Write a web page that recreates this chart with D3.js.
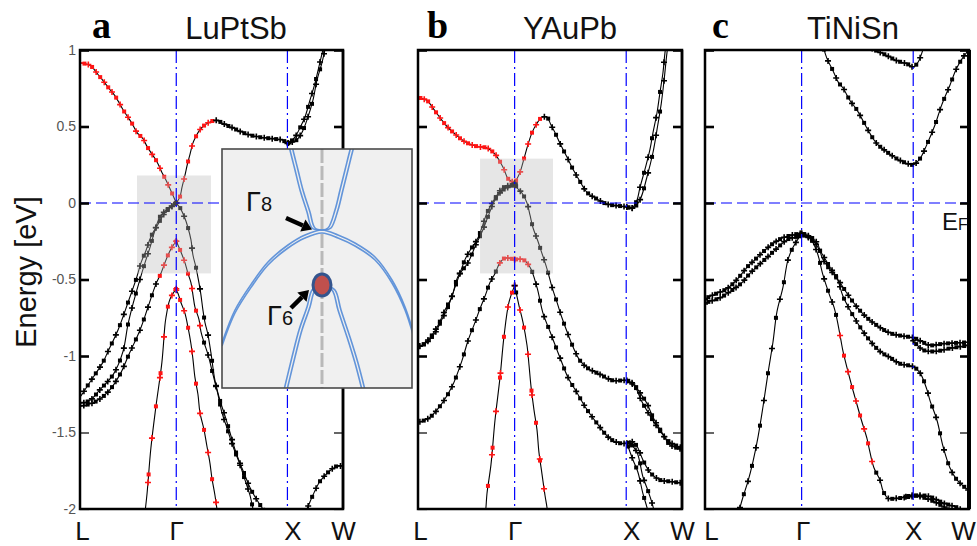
<!DOCTYPE html>
<html><head><meta charset="utf-8">
<script src="https://cdn.jsdelivr.net/npm/d3@7"></script>
<style>body{margin:0;background:#fff}svg{display:block}</style>
</head><body>
<svg id="chart" width="977" height="546"></svg>
<script>
// ---------------- data ----------------
const kPoints = [0, 0.866, 1.866, 2.366];
const kLabels = ["L", "Γ", "X", "W"];
const eTicks = [1, 0.5, 0, -0.5, -1, -1.5, -2];
const eTickLabels = ["1", "0.5", "0", "-0.5", "-1", "-1.5", "-2"];
const compounds = ["LuPtSb", "YAuPb", "TiNiSn"];
const panelLetters = ["a", "b", "c"];

// LuPtSb bands [k, E(eV)]
const a_c1 = [[0,0.915],[0.09,0.90],[0.162,0.84],[0.207,0.80],[0.26,0.75],[0.315,0.70],[0.387,0.61],[0.432,0.56],[0.468,0.52],[0.513,0.46],[0.567,0.42],[0.603,0.37],[0.647,0.32],[0.692,0.27],[0.737,0.20],[0.773,0.15],[0.827,0.065],[0.866,0]];
const a_c2 = [[0.866,0],[0.899,0.04],[0.917,0.10],[0.944,0.18],[0.965,0.25],[0.99,0.32],[1.015,0.39],[1.04,0.43],[1.07,0.47],[1.106,0.50],[1.169,0.53],[1.232,0.54],[1.286,0.52],[1.376,0.49],[1.502,0.45],[1.619,0.43],[1.736,0.42],[1.826,0.41],[1.866,0.39],[1.933,0.43],[1.978,0.49],[2.023,0.56],[2.068,0.67],[2.113,0.78],[2.149,0.89],[2.185,1.00],[2.22,1.1]];
const a_c3 = [[1.866,0.39],[1.945,0.41],[1.996,0.46],[2.05,0.56],[2.095,0.67],[2.131,0.80],[2.176,0.915],[2.203,1.0],[2.23,1.08]];
const a_v1 = [[0.866,0],[0.764,-0.065],[0.701,-0.14],[0.638,-0.22],[0.594,-0.31],[0.549,-0.39],[0.513,-0.48],[0.432,-0.65],[0.342,-0.83],[0.252,-0.97],[0.207,-1.04],[0.099,-1.16],[0.027,-1.24],[0,-1.27]];
const a_v2 = [[0.866,0],[0.728,-0.08],[0.674,-0.18],[0.63,-0.29],[0.585,-0.39],[0.531,-0.52],[0.477,-0.66],[0.43,-0.80],[0.387,-0.97],[0.30,-1.12],[0.18,-1.22],[0.09,-1.29],[0,-1.31]];
const a_v3 = [[0.866,-0.25],[0.818,-0.30],[0.764,-0.39],[0.728,-0.46],[0.683,-0.53],[0.612,-0.68],[0.54,-0.83],[0.44,-0.99],[0.36,-1.12],[0.252,-1.235],[0.135,-1.30],[0,-1.33]];
const a_v4 = [[0.866,-0.56],[0.809,-0.63],[0.773,-0.75],[0.764,-0.80],[0.737,-1.04],[0.683,-1.33],[0.638,-1.60],[0.603,-1.90],[0.585,-2.02]];
const a_v5 = [[0.866,-0.57],[0.881,-0.59],[0.908,-0.65],[0.944,-0.72],[0.971,-0.81],[0.998,-0.92],[1.016,-1.02],[1.034,-1.14],[1.061,-1.25],[1.079,-1.37],[1.115,-1.48],[1.142,-1.59],[1.169,-1.70],[1.187,-1.80],[1.214,-1.91],[1.232,-2.0],[1.24,-2.05]];
const a_v6 = [[0.866,-0.25],[0.908,-0.32],[0.944,-0.39],[0.971,-0.46],[0.998,-0.52],[1.016,-0.60],[1.034,-0.68],[1.07,-0.76],[1.088,-0.84],[1.115,-0.91],[1.151,-0.99],[1.196,-1.12],[1.241,-1.25],[1.277,-1.37],[1.322,-1.47],[1.376,-1.59],[1.439,-1.71],[1.484,-1.81],[1.529,-1.91],[1.556,-2.0],[1.57,-2.05]];
const a_v7 = [[0.866,0],[0.899,-0.03],[0.944,-0.10],[0.971,-0.16],[0.998,-0.24],[1.016,-0.34],[1.043,-0.42],[1.07,-0.52],[1.088,-0.60],[1.106,-0.70],[1.124,-0.78],[1.151,-0.86],[1.178,-0.98],[1.214,-1.16],[1.259,-1.29],[1.304,-1.39],[1.349,-1.50],[1.394,-1.61],[1.439,-1.70],[1.484,-1.78],[1.529,-1.86],[1.574,-1.92],[1.646,-2.0],[1.68,-2.03]];
const a_v8 = [[2.0,-2.06],[2.041,-2.0],[2.095,-1.91],[2.158,-1.82],[2.248,-1.75],[2.311,-1.72],[2.366,-1.72]];
const aBands = [a_c1, a_c2, a_c3, a_v1, a_v2, a_v3, a_v4, a_v5, a_v6, a_v7, a_v8];
const aRed = [[0,0.87],[0.86,1.2],null,null,null,[0.7,0.87],[0.58,0.87],[0.86,1.25],[0.86,1.1],null,null];
const aShade = [0.513, 1.178, 0.18, -0.46];

// YAuPb bands
const b_c1 = [[0,0.69],[0.081,0.67],[0.134,0.62],[0.215,0.54],[0.26,0.50],[0.349,0.44],[0.421,0.40],[0.529,0.37],[0.618,0.36],[0.69,0.32],[0.735,0.27],[0.771,0.22],[0.806,0.16],[0.866,0.13]];
const b_c2 = [[0.866,0.13],[0.914,0.20],[0.95,0.29],[0.989,0.39],[1.022,0.46],[1.057,0.51],[1.111,0.56],[1.156,0.56],[1.192,0.51],[1.228,0.46],[1.272,0.39],[1.335,0.30],[1.389,0.22],[1.452,0.14],[1.514,0.07],[1.604,0.026],[1.694,-0.007],[1.81,-0.02],[1.872,-0.026],[1.918,-0.033],[1.963,0.02],[1.989,0.10],[2.034,0.22],[2.079,0.35],[2.106,0.46],[2.142,0.59],[2.168,0.72],[2.195,0.85],[2.213,0.98],[2.231,1.07]];
const b_c3 = [[1.872,-0.026],[1.927,-0.033],[1.989,0.02],[2.052,0.17],[2.106,0.33],[2.142,0.48],[2.18,0.65],[2.205,0.80],[2.231,0.98],[2.249,1.07]];
const b_v1 = [[0.866,0.12],[0.762,0.10],[0.69,0.03],[0.618,-0.065],[0.573,-0.16],[0.529,-0.24],[0.466,-0.31],[0.421,-0.37],[0.376,-0.46],[0.332,-0.55],[0.269,-0.68],[0.215,-0.76],[0.152,-0.85],[0.063,-0.92],[0,-0.94]];
const b_v2 = [[0.866,0.12],[0.762,0.085],[0.69,0.02],[0.627,-0.09],[0.573,-0.19],[0.52,-0.27],[0.448,-0.39],[0.358,-0.48],[0.305,-0.61],[0.242,-0.70],[0.179,-0.80],[0.108,-0.88],[0.036,-0.93],[0,-0.935]];
const b_v3 = [[0.866,0.13],[0.887,0.10],[0.932,0.065],[0.977,0],[1.004,-0.08],[1.03,-0.16],[1.075,-0.25],[1.102,-0.31],[1.156,-0.43],[1.201,-0.55],[1.246,-0.65],[1.29,-0.75],[1.335,-0.84],[1.389,-0.94],[1.452,-1.03],[1.523,-1.08],[1.631,-1.12],[1.747,-1.16],[1.872,-1.16],[1.927,-1.18],[1.989,-1.24],[2.052,-1.31],[2.106,-1.40],[2.186,-1.50],[2.258,-1.58],[2.366,-1.61]];
const b_v3b = [[1.872,-1.16],[1.945,-1.20],[2.0,-1.29],[2.07,-1.38],[2.15,-1.47],[2.25,-1.56],[2.366,-1.60]];
const b_v4 = [[0.866,-0.37],[0.78,-0.36],[0.735,-0.39],[0.69,-0.46],[0.645,-0.52],[0.60,-0.61],[0.556,-0.69],[0.511,-0.78],[0.448,-0.90],[0.394,-1.03],[0.305,-1.20],[0.215,-1.31],[0.108,-1.40],[0.018,-1.43],[0,-1.43]];
const b_v5 = [[0.866,-0.37],[0.941,-0.37],[1.004,-0.42],[1.066,-0.55],[1.12,-0.72],[1.183,-0.84],[1.272,-1.01],[1.344,-1.14],[1.425,-1.24],[1.496,-1.33],[1.604,-1.44],[1.72,-1.54],[1.81,-1.57],[1.872,-1.57],[1.918,-1.56],[1.963,-1.59],[2.016,-1.68],[2.079,-1.76],[2.168,-1.81],[2.258,-1.82],[2.366,-1.83]];
const b_v6 = [[1.872,-1.57],[1.927,-1.68],[1.971,-1.76],[2.016,-1.90],[2.052,-1.99],[2.07,-2.05]];
const b_v7 = [[1.90,-1.57],[1.963,-1.63],[2.016,-1.79],[2.061,-1.88],[2.097,-1.96],[2.115,-2.01]];
const b_v8 = [[0.866,-0.54],[0.815,-0.65],[0.771,-0.87],[0.735,-1.14],[0.69,-1.42],[0.654,-1.71],[0.618,-1.90],[0.609,-1.99],[0.6,-2.05]];
const b_v9 = [[0.866,-0.54],[0.905,-0.67],[0.941,-0.78],[0.977,-0.93],[0.995,-1.06],[1.013,-1.20],[1.039,-1.35],[1.066,-1.48],[1.084,-1.63],[1.111,-1.77],[1.138,-1.91],[1.156,-1.99],[1.165,-2.05]];
const bBands = [b_c1, b_c2, b_c3, b_v1, b_v2, b_v3, b_v3b, b_v4, b_v5, b_v6, b_v7, b_v8, b_v9];
const bRed = [[0,0.87],[0.86,1.12],null,null,null,null,null,[0.7,0.87],[0.86,1.0],null,null,[0.6,0.87],[0.9,1.17]];
const bShade = [0.556, 1.21, 0.29, -0.46];

// TiNiSn bands
const c_c1 = [[1.05,1.05],[1.09,0.95],[1.15,0.86],[1.194,0.79],[1.239,0.75],[1.299,0.67],[1.36,0.61],[1.478,0.455],[1.538,0.39],[1.628,0.335],[1.718,0.29],[1.807,0.26],[1.866,0.25],[1.927,0.29],[1.987,0.38],[2.061,0.51],[2.121,0.64],[2.195,0.77],[2.255,0.88],[2.315,0.955],[2.366,1.0]];
const c_c2 = [[1.434,1.04],[1.523,1.0],[1.613,0.97],[1.72,0.93],[1.81,0.91],[1.866,0.89],[1.909,0.92],[1.953,1.0],[1.98,1.05]];
const c_v1 = [[0,-0.63],[0.018,-0.62],[0.108,-0.59],[0.197,-0.56],[0.287,-0.50],[0.376,-0.42],[0.448,-0.37],[0.52,-0.32],[0.60,-0.27],[0.69,-0.23],[0.78,-0.21],[0.866,-0.20],[0.941,-0.22],[1.004,-0.26],[1.057,-0.37],[1.147,-0.46],[1.21,-0.52],[1.272,-0.59],[1.362,-0.68],[1.452,-0.75],[1.541,-0.80],[1.658,-0.85],[1.774,-0.87],[1.866,-0.88],[1.953,-0.91],[2.016,-0.93],[2.133,-0.92],[2.366,-0.91]];
const c_v1b = [[1.866,-0.90],[1.953,-0.96],[2.061,-0.97],[2.195,-0.95],[2.366,-0.93]];
const c_v2 = [[0,-0.66],[0.018,-0.65],[0.134,-0.62],[0.242,-0.57],[0.332,-0.52],[0.403,-0.46],[0.475,-0.41],[0.565,-0.35],[0.654,-0.29],[0.735,-0.24],[0.824,-0.22],[0.866,-0.21],[0.959,-0.24],[1.03,-0.31],[1.12,-0.42],[1.183,-0.49],[1.237,-0.61],[1.299,-0.70],[1.389,-0.81],[1.478,-0.90],[1.568,-0.97],[1.658,-1.01],[1.747,-1.05],[1.866,-1.07],[1.927,-1.11],[1.989,-1.22],[2.016,-1.29],[2.079,-1.42],[2.133,-1.59],[2.195,-1.73],[2.258,-1.81],[2.366,-1.88]];
const c_v3 = [[0.866,-0.20],[0.789,-0.29],[0.744,-0.37],[0.699,-0.55],[0.645,-0.71],[0.609,-0.91],[0.565,-1.11],[0.52,-1.33],[0.475,-1.53],[0.43,-1.69],[0.385,-1.82],[0.341,-1.92],[0.314,-1.99],[0.30,-2.03]];
const c_v4 = [[0.866,-0.20],[0.941,-0.23],[1.004,-0.32],[1.057,-0.47],[1.12,-0.61],[1.156,-0.68],[1.183,-0.76],[1.219,-0.90],[1.237,-0.97],[1.317,-1.20],[1.344,-1.27],[1.398,-1.41],[1.452,-1.54],[1.47,-1.60],[1.514,-1.73],[1.568,-1.81],[1.595,-1.88],[1.64,-1.93],[1.72,-1.93],[1.837,-1.92],[1.927,-1.91],[2.016,-1.92],[2.133,-1.96],[2.258,-1.99],[2.303,-2.01]];
const c_v5 = [[1.80,-1.92],[1.864,-1.91],[2.016,-1.94],[2.151,-1.99],[2.24,-2.03]];
const cBands = [c_c1, c_c2, c_v1, c_v1b, c_v2, c_v3, c_v4, c_v5];
const cRed = [null,null,null,null,null,null,[1.2,1.52],null];

// inset (zoom around Γ of LuPtSb), local units
const ins_hh = [[-1.0,-1.13],[-0.87,-0.80],[-0.70,-0.53],[-0.54,-0.32],[-0.34,-0.15],[-0.17,-0.05],[0,0],[0.16,-0.05],[0.33,-0.13],[0.53,-0.27],[0.70,-0.50],[0.83,-0.77],[0.92,-1.05]];
const ins_up_l = [[0,0],[-0.07,0.02],[-0.12,0.18],[-0.19,0.40],[-0.24,0.60],[-0.29,0.80],[-0.30,0.85]];
const ins_up_r = [[0,0],[0.06,0.02],[0.13,0.20],[0.18,0.40],[0.23,0.60],[0.28,0.80],[0.295,0.85]];
const ins_g6_l = [[0,-0.55],[-0.07,-0.60],[-0.12,-0.77],[-0.20,-1.00],[-0.27,-1.27],[-0.35,-1.60]];
const ins_g6_r = [[0,-0.55],[0.10,-0.60],[0.16,-0.80],[0.25,-1.07],[0.33,-1.33],[0.40,-1.60]];
const insGamma8 = [0, 0];
const insGamma6 = [0, -0.55];

// ---------------- drawing ----------------
const svg = d3.select("#chart");
const SANS = "'Liberation Sans', Arial, sans-serif";
const TOP = 50, BOT = 509;
const STEP = 4;

const panels = [
  {x0: 80, x1: 343, bands: aBands, red: aRed, shade: aShade, labels: true, titleX: 236, letterX: 92, rw: 2.5, ldx: [2, 0, 5, 0]},
  {x0: 418, x1: 682, bands: bBands, red: bRed, shade: bShade, labels: false, titleX: 570, letterX: 427, rw: 2.5, ldx: [2, 0, 5, 0]},
  {x0: 705, x1: 969, bands: cBands, red: cRed, shade: null, labels: false, titleX: 853, letterX: 712, rw: 4, ldx: [6, 1, 0, -6]}
];
const defs = svg.append("defs");

function drawBand(layer, sx, sy, pts, red) {
  const line = d3.line().x(d => sx(d[0])).y(d => sy(d[1])).curve(d3.curveCatmullRom.alpha(0.5));
  const path = layer.append("path").datum(pts).attr("d", line)
    .attr("fill", "none").attr("stroke", "#000").attr("stroke-width", 1.1);
  const node = path.node(), L = node.getTotalLength();
  let lastBin = null, lastS = -1e9, n = 0;
  const mk = layer.append("g");
  for (let s = 0; s <= L; s += 0.5) {
    const p = node.getPointAtLength(s);
    const bin = Math.floor(p.x / STEP);
    if (bin !== lastBin || s - lastS > 36) {
      lastBin = bin; lastS = s;
      const k = sx.invert(p.x);
      const col = (red && k >= red[0] && k <= red[1]) ? "#ff1414" : "#000";
      if (n % 2 === 0) {
        mk.append("path").attr("d", `M${p.x-3},${p.y}h6M${p.x},${p.y-3}v6`)
          .attr("stroke", col).attr("stroke-width", 1.6);
      } else {
        mk.append("rect").attr("x", p.x-2).attr("y", p.y-2).attr("width", 4).attr("height", 4).attr("fill", col);
      }
      n++;
    }
  }
}

panels.forEach((p, pi) => {
  const sx = d3.scaleLinear().domain([0, 2.366]).range([p.x0, p.x1]);
  const sy = d3.scaleLinear().domain([-2, 1]).range([BOT, TOP]);
  const g = svg.append("g");
  const clipId = "clip" + pi;
  defs.append("clipPath").attr("id", clipId).append("rect")
    .attr("x", p.x0).attr("y", TOP).attr("width", p.x1 - p.x0).attr("height", BOT - TOP);
  const bl = g.append("g").attr("clip-path", `url(#${clipId})`);
  p.bands.forEach((b, i) => drawBand(bl, sx, sy, b, p.red[i]));

  if (p.shade) {
    g.append("rect").attr("x", sx(p.shade[0])).attr("y", sy(p.shade[2]))
      .attr("width", sx(p.shade[1]) - sx(p.shade[0])).attr("height", sy(p.shade[3]) - sy(p.shade[2]))
      .attr("fill", "rgb(186,186,186)").attr("opacity", 0.36);
  }
  // guide lines
  [kPoints[1], kPoints[2]].forEach(k => {
    g.append("line").attr("x1", sx(k)).attr("x2", sx(k)).attr("y1", TOP).attr("y2", BOT)
      .attr("stroke", "#0000ff").attr("stroke-width", 1.2).attr("stroke-dasharray", "13,4,2,4");
  });
  g.append("line").attr("x1", p.x0).attr("x2", p.x1).attr("y1", sy(0)).attr("y2", sy(0))
    .attr("stroke", "#0000ff").attr("stroke-width", 1.2).attr("stroke-dasharray", "11,5");

  // axes
  const left = g.append("g").attr("transform", `translate(${p.x0},0)`)
    .call(d3.axisLeft(sy).tickValues(eTicks).tickSize(-9).tickPadding(4)
      .tickFormat(p.labels ? (d, i) => eTickLabels[i] : ""));
  const right = g.append("g").attr("transform", `translate(${p.x1},0)`)
    .call(d3.axisRight(sy).tickValues(eTicks).tickSize(-9).tickFormat(""));
  [left, right].forEach(ax => {
    ax.select(".domain").remove();
    ax.selectAll(".tick line").attr("stroke", "#000").attr("stroke-width", d => d < -1.2 ? 1.2 : 2.6);
    ax.selectAll(".tick text").attr("font-family", SANS).attr("font-size", 14).attr("fill", "#555");
  });
  const bottom = g.append("g").attr("transform", `translate(0,${BOT})`)
    .call(d3.axisBottom(sx).tickValues(kPoints).tickSize(0).tickPadding(13).tickFormat((d, i) => kLabels[i]));
  bottom.select(".domain").remove();
  bottom.selectAll(".tick text").attr("font-family", SANS).attr("font-size", 26).attr("fill", "#111")
    .attr("dx", (d, i) => p.ldx[i]);

  // frame
  g.append("rect").attr("x", p.x0).attr("y", TOP).attr("width", p.x1 - p.x0).attr("height", BOT - TOP)
    .attr("fill", "none").attr("stroke", "#000").attr("stroke-width", 2.5);
  g.append("line").attr("x1", p.x1).attr("x2", p.x1).attr("y1", TOP).attr("y2", BOT)
    .attr("stroke", "#000").attr("stroke-width", p.rw);

  // titles
  svg.append("text").attr("x", p.letterX).attr("y", 38).text(panelLetters[pi])
    .attr("font-family", "'Liberation Serif', 'Times New Roman', serif").attr("font-weight", "bold").attr("font-size", 38);
  svg.append("text").attr("x", p.titleX).attr("y", 39).attr("text-anchor", "middle").text(compounds[pi])
    .attr("font-family", SANS).attr("font-size", 31).attr("fill", "#111");

  if (pi === 2) {
    const t = svg.append("text").attr("x", 942).attr("y", 230).attr("font-family", SANS).attr("fill", "#111");
    t.append("tspan").attr("font-size", 24).text("E");
    t.append("tspan").attr("font-size", 16).text("F");
  }
});

// y label
svg.append("text").attr("transform", "translate(36,272) rotate(-90)").attr("text-anchor", "middle")
  .attr("font-family", SANS).attr("font-size", 29).attr("fill", "#111").text("Energy [eV]");

// ---------------- inset ----------------
const ix = d3.scaleLinear().domain([-1, 0.9]).range([222, 412]);
const iy = d3.scaleLinear().domain([0.81, -1.58]).range([149, 388]);
const ins = svg.append("g");
defs.append("clipPath").attr("id", "insclip").append("rect").attr("x", 222).attr("y", 149).attr("width", 190).attr("height", 239);
ins.append("rect").attr("x", 222).attr("y", 149).attr("width", 190).attr("height", 239).attr("fill", "#f0f0f0");
const ic = ins.append("g").attr("clip-path", "url(#insclip)");
ic.append("line").attr("x1", ix(0)).attr("x2", ix(0)).attr("y1", 149).attr("y2", 388)
  .attr("stroke", "#b9b9b9").attr("stroke-width", 3).attr("stroke-dasharray", "14,3");
const iline = d3.line().x(d => ix(d[0])).y(d => iy(d[1])).curve(d3.curveCatmullRom.alpha(0.5));
[[ins_hh, [0, 3]], [ins_up_l, [-3, 0]], [ins_up_r, [3, 0]], [ins_g6_l, [-3, 0]], [ins_g6_r, [3, 0]]].forEach(([b, off]) => {
  [[0, 0], off].forEach(o => {
    ic.append("path").datum(b).attr("d", iline).attr("transform", `translate(${o[0]},${o[1]})`)
      .attr("fill", "none").attr("stroke", "#5b8fd8").attr("stroke-width", 1.6).attr("opacity", 0.95);
  });
});
ic.append("ellipse").attr("cx", ix(insGamma6[0])).attr("cy", iy(insGamma6[1])).attr("rx", 9).attr("ry", 11)
  .attr("fill", "#c0504d").attr("stroke", "#34558e").attr("stroke-width", 3);
ins.append("rect").attr("x", 222).attr("y", 149).attr("width", 190).attr("height", 239)
  .attr("fill", "none").attr("stroke", "#4a4a4a").attr("stroke-width", 1.6);

function arrow(x0, y0, x1, y1) {
  const dx = x1 - x0, dy = y1 - y0, len = Math.hypot(dx, dy), ux = dx / len, uy = dy / len;
  const hl = 10, hw = 6.5, bx = x1 - ux * hl, by = y1 - uy * hl;
  ins.append("line").attr("x1", x0).attr("y1", y0).attr("x2", bx).attr("y2", by)
    .attr("stroke", "#000").attr("stroke-width", 4.5);
  ins.append("path").attr("d", `M${x1},${y1}L${bx - uy * hw},${by + ux * hw}L${bx + uy * hw},${by - ux * hw}Z`).attr("fill", "#000");
}
arrow(ix(-0.36), iy(0.12), ix(-0.10), iy(0.005));
arrow(ix(-0.31), iy(-0.78), ix(-0.13), iy(-0.60));

function gLabel(x, y, sub) {
  const t = ins.append("text").attr("x", x).attr("y", y).attr("font-family", SANS).attr("fill", "#111");
  t.append("tspan").attr("font-size", 27).text("Γ");
  t.append("tspan").attr("font-size", 20).text(sub);
}
gLabel(ix(-0.76), iy(0.19), "8");
gLabel(ix(-0.55), iy(-0.95), "6");
</script>
</body></html>
